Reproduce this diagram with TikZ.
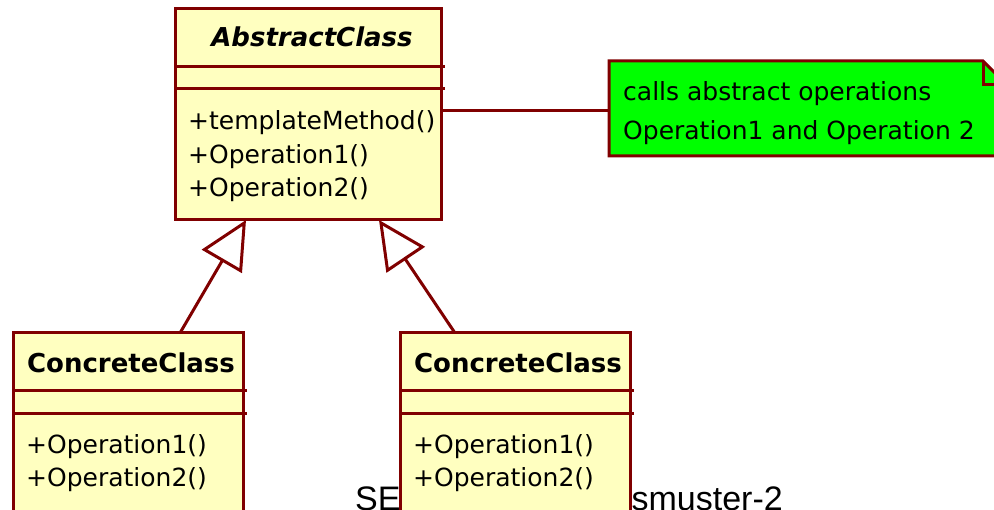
\documentclass[tikz,border=0pt]{standalone}
\usepackage{fontspec}
\setmainfont{DejaVu Sans}
\newfontfamily\bgfont{Liberation Sans}
\usetikzlibrary{arrows.meta,calc}
\definecolor{umlred}{RGB}{128,0,0}
\definecolor{umlfill}{RGB}{255,255,192}
\definecolor{notegreen}{RGB}{0,255,0}
\tikzset{
  cls/.style={draw=umlred, fill=umlfill, line width=3pt, rectangle, inner sep=0pt, outer sep=0pt, anchor=north west},
  sep/.style={draw=umlred, line width=3pt},
  title/.style={inner sep=0pt, anchor=base, font=\fontsize{26}{30}\selectfont\bfseries},
  member/.style={inner sep=0pt, anchor=base west, font=\fontsize{25}{29}\selectfont},
  gen/.style={draw=umlred, line width=3pt, -{Triangle[open, length=48pt, width=46pt]}},
  link/.style={draw=umlred, line width=3pt},
  bgtext/.style={inner sep=0pt, font=\fontsize{34}{40}\selectfont\bgfont, text=black}
}
\begin{document}
\begin{tikzpicture}[x=1pt, y=-1pt]
\useasboundingbox (0,0) rectangle (994,510);
\clip (0,0) rectangle (994,510);
% background caption (partly hidden)
\node[bgtext, anchor=base west] (capA) at (355,511) {SE};
\node[bgtext, anchor=base east] (capB) at (783,511) {smuster-2};
% abstract class
\node[cls, minimum width=266pt, minimum height=211pt] (abs) at (175,9) {};
\draw[sep] ($(abs.north west)+(0,58)$) -- ++(270,0);
\draw[sep] ($(abs.north west)+(0,80)$) -- ++(270,0);
\node[title, font=\fontsize{26}{30}\selectfont\bfseries\itshape] (absT) at ($(abs.north)+(4,38)$) {AbstractClass};
\node[member] (absM1) at ($(abs.north west)+(13,121)$) {+templateMethod()};
\node[member] (absM2) at ($(abs.north west)+(13,155)$) {+Operation1()};
\node[member] (absM3) at ($(abs.north west)+(13,188)$) {+Operation2()};
% concrete class 1
\node[cls, minimum width=230pt, minimum height=200pt] (c1) at (13,333) {};
\draw[sep] ($(c1.north west)+(0,58)$) -- ++(234,0);
\draw[sep] ($(c1.north west)+(0,81)$) -- ++(234,0);
\node[title] (c1T) at ($(c1.north)+(3,40)$) {ConcreteClass};
\node[member] (c1M1) at ($(c1.north west)+(13,121)$) {+Operation1()};
\node[member] (c1M2) at ($(c1.north west)+(13,154)$) {+Operation2()};
% concrete class 2
\node[cls, minimum width=230pt, minimum height=200pt] (c2) at (400,333) {};
\draw[sep] ($(c2.north west)+(0,58)$) -- ++(234,0);
\draw[sep] ($(c2.north west)+(0,81)$) -- ++(234,0);
\node[title] (c2T) at ($(c2.north)+(3,40)$) {ConcreteClass};
\node[member] (c2M1) at ($(c2.north west)+(13,121)$) {+Operation1()};
\node[member] (c2M2) at ($(c2.north west)+(13,154)$) {+Operation2()};
% generalizations
\draw[gen] ($(c1.north west)+(167,0)$) -- ($(abs.south west)+(71,0)$);
\draw[gen] ($(c2.north west)+(55,0)$) -- ($(abs.south west)+(204,0)$);
% note
\coordinate (nNW) at (609,61);
\coordinate (nSE) at (1007,156);
\path[fill=notegreen, draw=umlred, line width=3pt, line join=miter]
  (nNW) -- ($(nSE|-nNW)+(-24,0)$) -- ($(nSE|-nNW)+(0,24)$) -- (nSE) -- (nNW|-nSE) -- cycle;
\draw[link] ($(nSE|-nNW)+(-24,0)$) -- ($(nSE|-nNW)+(-24,24)$) -- ($(nSE|-nNW)+(0,24)$);
\node[member] (nt1) at (623,101) {calls abstract operations};
\node[member] (nt2) at (623,140) {Operation1 and Operation 2};
\coordinate (noteW) at (nNW|-0,111);
\draw[link] (abs.east|-noteW) -- (noteW);
\end{tikzpicture}
\end{document}
